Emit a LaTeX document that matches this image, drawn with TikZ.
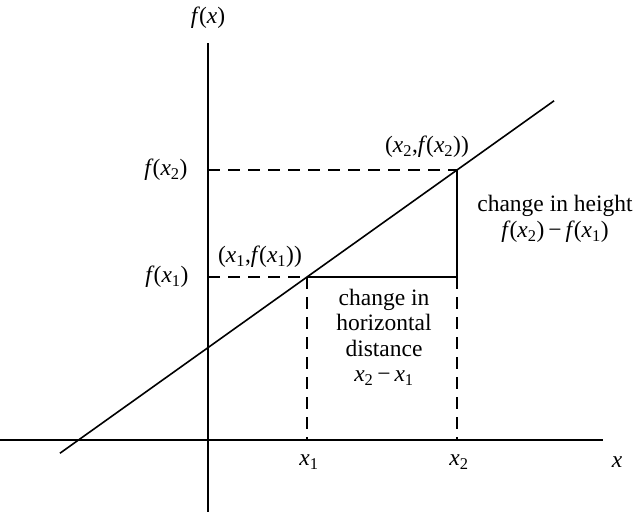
\documentclass[tikz,border=0pt]{standalone}
\usepackage{fontspec}
\setmainfont{Liberation Serif}
\usetikzlibrary{calc}
\newcommand{\vi}[1]{\textit{#1}}
\newcommand{\fx}[1]{\textit{f}\kern-1pt(\textit{x}\textsubscript{#1})}
\begin{document}
\begin{tikzpicture}[x=1pt,y=-1pt,
  lbl/.style={inner sep=0pt,font=\rmfamily\fontsize{23.5}{25.5}\selectfont},
  ln/.style={line width=1.6pt},
  dsh/.style={line width=1.6pt,dash pattern=on 12pt off 8pt}]
\useasboundingbox (0,0) rectangle (637,512);
% axes
\coordinate (xl) at (0,440);
\coordinate (xr) at (603,440);
\coordinate (yt) at (208,43);
\coordinate (yb) at (208,512);
\draw[ln] (xl) -- (xr);
\draw[ln] (yt) -- (yb);
% points
\coordinate (A) at (307,277);
\coordinate (B) at (457,170);
\coordinate (A0) at (208,277);
\coordinate (B0) at (208,170);
\coordinate (Ax) at (307,440);
\coordinate (Bx) at (457,440);
\coordinate (Bh) at (457,277);
% line
\draw[ln] ($(A)!-1.647!(B)$) -- ($(A)!1.647!(B)$);
% dashed
\draw[dsh] (A0) -- (A);
\draw[dsh] (B0) -- (B);
\draw[dsh] (Bh) -- (Bx);
\draw[dsh] (A) -- (Ax);
% solid triangle
\draw[ln] (A) -- (Bh) -- (B);
% labels
\node[lbl] (fx) at (208,18) {\vi{f}\kern-1pt(\vi{x})};
\node[lbl] (fx2) at (166,170) {\fx{2}};
\node[lbl] (fx1) at (167,277) {\fx{1}};
\node[lbl] (p1) at (260,257) {(\vi{x}\textsubscript{1},\fx{1})};
\node[lbl] (p2) at (427,147) {(\vi{x}\textsubscript{2},\fx{2})};
\node[lbl,align=center] (ch) at (555,219) {change in height\\[1pt]\fx{2}\,−\,\fx{1}};
\node[lbl,align=center] (cd) at (384,337) {change in\\horizontal\\distance\\\vi{x}\textsubscript{2}\,−\,\vi{x}\textsubscript{1}};
\node[lbl] (x1) at (309,462) {\vi{x}\textsubscript{1}};
\node[lbl] (x2) at (459,462) {\vi{x}\textsubscript{2}};
\node[lbl] (x) at (617,462) {\vi{x}};
\end{tikzpicture}
\end{document}
